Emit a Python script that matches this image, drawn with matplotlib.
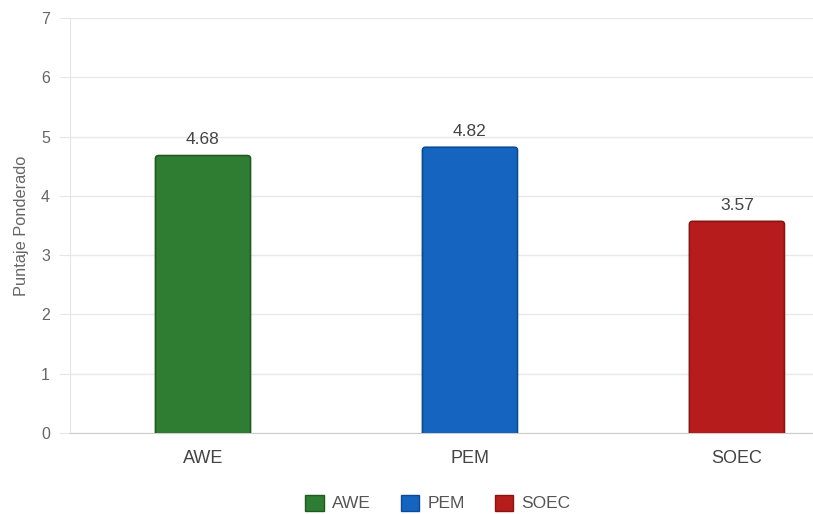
import matplotlib
matplotlib.use("Agg")
import matplotlib.pyplot as plt
from matplotlib.patches import Patch, FancyBboxPatch

categories = ["AWE", "PEM", "SOEC"]
scores = [4.68, 4.82, 3.57]
colors = ["#2e7d32", "#1565c0", "#b71c1c"]
edges = ["#1f5a23", "#0d4a94", "#8a1414"]
yticks = [0, 1, 2, 3, 4, 5, 6, 7]

plt.rcParams["font.family"] = ["Liberation Sans", "DejaVu Sans"]

W, H = 813, 514
fig = plt.figure(figsize=(W / 100, H / 100), dpi=100)
left, right, top, bottom = 69.5, 813, 18, 433
ax = fig.add_axes([left / W, (H - bottom) / H, (right - left) / W, (bottom - top) / H])

x = list(range(len(categories)))
ax.set_xlim(-0.5, 2.285)
ax.set_ylim(0, 7)
bars = ax.bar(x, scores, width=0.356, color=colors, edgecolor=edges, linewidth=1.2, zorder=3)

# swap each bar for a version with softly rounded corners
px_x = (right - left) / (2.285 + 0.5)
px_y = (bottom - top) / 7
for rect in bars:
    fb = FancyBboxPatch((rect.get_x(), rect.get_y() - 0.06), rect.get_width(), rect.get_height() + 0.06,
                        boxstyle="round,pad=0,rounding_size=0.012",
                        mutation_aspect=px_x / px_y,
                        facecolor=rect.get_facecolor(), edgecolor=rect.get_edgecolor(),
                        linewidth=1.2, zorder=3)
    fb.set_clip_path(ax.patch)
    ax.add_patch(fb)
    rect.set_visible(False)

for xi, v in zip(x, scores):
    ax.annotate(f"{v:.2f}", (xi, v), xytext=(0, 6), textcoords="offset points",
                ha="center", va="bottom", fontsize=12.5, color="#444444")

ax.set_yticks(yticks)
ax.set_xticks(x)
ax.set_xticklabels(categories, fontsize=13, color="#444444")
ax.tick_params(axis="y", labelsize=11.5, labelcolor="#666666", length=8, color="#e6e6e6", pad=6)
ax.tick_params(axis="x", length=0, pad=12)
ax.grid(axis="y", color="#e8e8e8", linewidth=1, zorder=0)
for s in ["top", "right"]:
    ax.spines[s].set_visible(False)
ax.spines["left"].set_color("#e6e6e6")
ax.spines["bottom"].set_color("#cccccc")
ax.set_ylabel("Puntaje Ponderado", fontsize=11.8, color="#666666", labelpad=9)

handles = [Patch(facecolor=c, edgecolor=e, label=l) for c, e, l in zip(colors, edges, categories)]
fig.legend(handles=handles, loc="center", bbox_to_anchor=(438 / W, 1 - 503 / H), ncol=3,
           frameon=False, fontsize=12.5, handlelength=1.05, handleheight=1.05,
           handletextpad=0.5, columnspacing=1.7, labelcolor="#555555")

fig.savefig("out.png", dpi=100)
